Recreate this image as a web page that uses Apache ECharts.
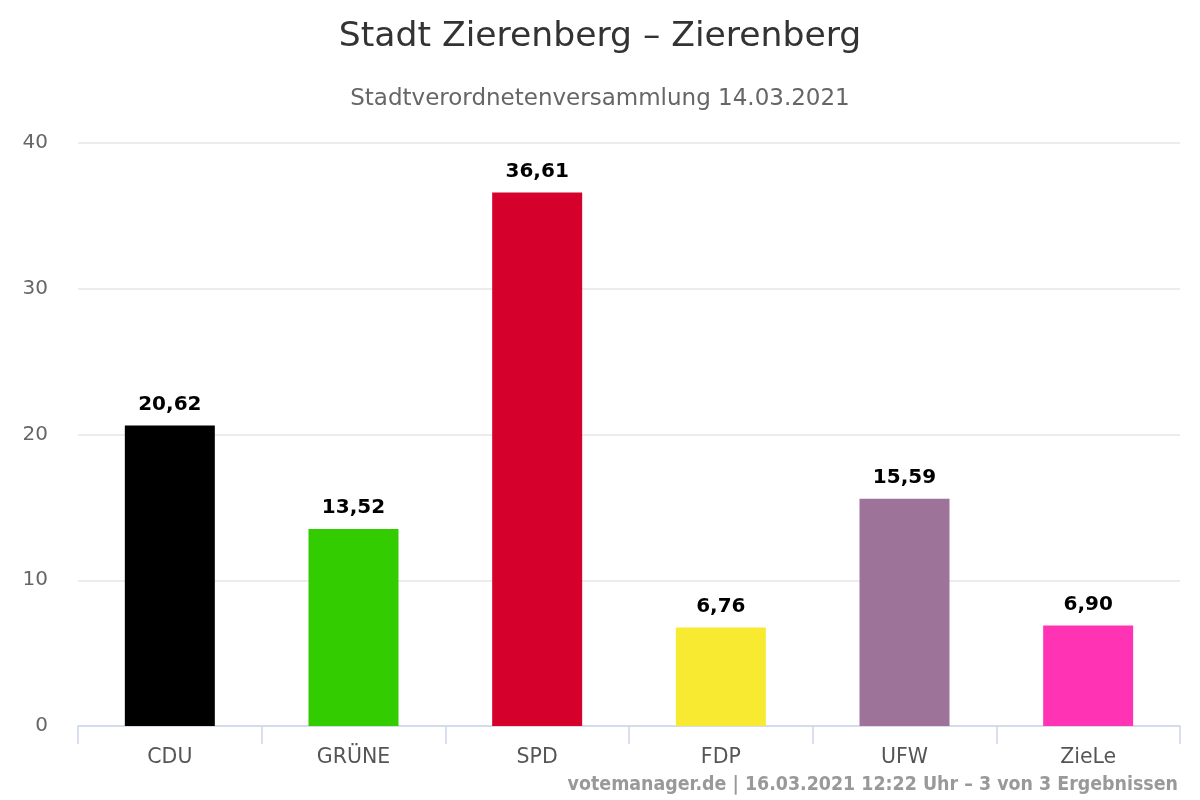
<!DOCTYPE html>
<html><head><meta charset="utf-8">
<script src="https://cdn.jsdelivr.net/npm/echarts@6/dist/echarts.min.js"></script>
<style>html,body{margin:0;padding:0;background:#fff}#c{width:1200px;height:800px}</style>
</head><body><div id="c"></div>
<script>
const categories = ['CDU','GRÜNE','SPD','FDP','UFW','ZieLe'];
const values = [20.62, 13.52, 36.61, 6.76, 15.59, 6.90];
const colors = ['#000000','#33cc00','#d5002b','#f8ea30','#9e7399','#ff33b3'];
const yTicks = [0,10,20,30,40];

const chart = echarts.init(document.getElementById('c'));
chart.setOption({
  animation:false,
  textStyle:{fontFamily:'DejaVu Sans'},
  title:[
    {text:'Stadt Zierenberg – Zierenberg', left:'center', top:15,
     textStyle:{fontFamily:'DejaVu Sans', fontSize:34.6, fontWeight:'normal', color:'#333'}},
    {text:'Stadtverordnetenversammlung 14.03.2021', left:'center', top:83,
     textStyle:{fontFamily:'DejaVu Sans', fontSize:23, fontWeight:'normal', color:'#666'}},
    {text:'votemanager.de | 16.03.2021 12:22 Uhr – 3 von 3 Ergebnissen', right:17, top:770,
     textStyle:{fontFamily:'DejaVu Sans Condensed', fontSize:19.4, fontWeight:'bold', color:'#999'}}
  ],
  grid:{left:78, right:20, top:143, bottom:74, containLabel:false},
  xAxis:{type:'category', data:categories,
    axisLine:{lineStyle:{color:'#ccd6eb', width:1.5}},
    axisTick:{show:true, length:18, lineStyle:{color:'#ccd6eb', width:1.5}},
    axisLabel:{color:'#555', fontSize:20.5, margin:21}
  },
  yAxis:{type:'value', min:yTicks[0], max:yTicks[yTicks.length-1], interval:10,
    axisLine:{show:false}, axisTick:{show:false},
    axisLabel:{color:'#666', fontSize:20, margin:30},
    splitLine:{lineStyle:{color:'#e6e6e6', width:1.5}}
  },
  series:[{type:'bar', barWidth:'49%',
    data:values.map((v,i)=>({value:v, itemStyle:{color:colors[i]}})),
    label:{show:true, position:'top', distance:11, color:'#000', fontSize:20, fontWeight:'bold',
      formatter:p=>p.value.toFixed(2).replace('.',',')}
  }]
});
</script></body></html>
